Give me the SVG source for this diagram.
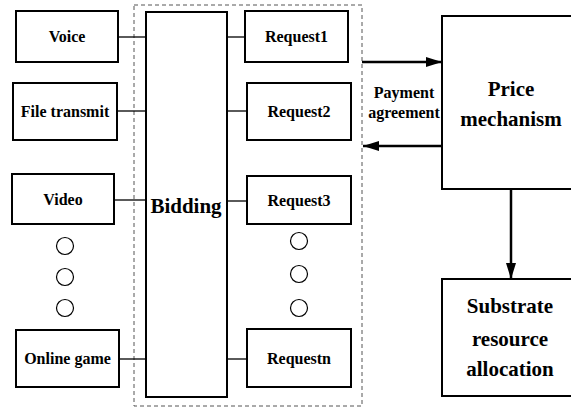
<svg xmlns="http://www.w3.org/2000/svg" width="571" height="407" viewBox="0 0 571 407">
<style>
.box{fill:#fff;stroke:#000;stroke-width:2}
.t{font-family:"Liberation Serif","Times New Roman",serif;font-weight:bold;text-anchor:middle;fill:#000}
.s16{font-size:16px}
.s21{font-size:21px}
.c{fill:none;stroke:#000;stroke-width:1.3}
.a{fill:none;stroke:#000;stroke-width:2.5}
.o{fill:#fff;stroke:#000;stroke-width:1.2}
</style>
<defs>
<marker id="ah" viewBox="0 0 16 10" refX="16" refY="5" markerWidth="16" markerHeight="10" markerUnits="userSpaceOnUse" orient="auto">
<path d="M0,0 L16,5 L0,10 z" fill="#000"/>
</marker>
</defs>
<rect x="134" y="5" width="228" height="401" fill="none" stroke="#555" stroke-width="1" stroke-dasharray="4,3"/>
<g id="connectors">
<line class="c" x1="118" y1="37" x2="146" y2="37"/>
<line class="c" x1="117" y1="111" x2="146" y2="111"/>
<line class="c" x1="114" y1="200" x2="146" y2="200"/>
<line class="c" x1="119" y1="359" x2="146" y2="359"/>
<line class="c" x1="227" y1="37" x2="245" y2="37"/>
<line class="c" x1="227" y1="111" x2="247" y2="111"/>
<line class="c" x1="227" y1="201" x2="247" y2="201"/>
<line class="c" x1="227" y1="359" x2="247" y2="359"/>
<line class="a" x1="362" y1="62" x2="442" y2="62" marker-end="url(#ah)"/>
<line class="a" x1="442" y1="146" x2="363" y2="146" marker-end="url(#ah)"/>
<line class="a" x1="511" y1="189" x2="511" y2="279" marker-end="url(#ah)"/>
</g>
<g id="voice"><rect class="box" x="16" y="11" width="102" height="51"/><text class="t s16" x="67" y="42">Voice</text></g>
<g id="file-transmit"><rect class="box" x="13" y="83" width="104" height="57"/><text class="t s16" x="65" y="117">File transmit</text></g>
<g id="video"><rect class="box" x="12" y="174" width="102" height="50"/><text class="t s16" x="63" y="205">Video</text></g>
<g id="left-dots"><circle class="o" cx="65" cy="246" r="8.5"/><circle class="o" cx="65" cy="277" r="8.5"/><circle class="o" cx="65" cy="308" r="8.5"/></g>
<g id="online-game"><rect class="box" x="16" y="330" width="103" height="57"/><text class="t s16" x="67.5" y="364">Online game</text></g>
<g id="bidding"><rect class="box" x="146" y="12" width="81" height="385"/><text class="t s21" x="186" y="213">Bidding</text></g>
<g id="request1"><rect class="box" x="245" y="11" width="103" height="51"/><text class="t s16" x="296.5" y="42">Request1</text></g>
<g id="request2"><rect class="box" x="247" y="83" width="104" height="57"/><text class="t s16" x="299" y="117">Request2</text></g>
<g id="request3"><rect class="box" x="247" y="176" width="104" height="48"/><text class="t s16" x="299" y="206">Request3</text></g>
<g id="right-dots"><circle class="o" cx="299" cy="241" r="8.5"/><circle class="o" cx="299" cy="274" r="8.5"/><circle class="o" cx="299" cy="308" r="8.5"/></g>
<g id="requestn"><rect class="box" x="247" y="329" width="104" height="58"/><text class="t s16" x="299" y="364">Requestn</text></g>
<g id="payment-label"><text class="t s16" x="404" y="98">Payment</text><text class="t s16" x="404" y="118">agreement</text></g>
<g id="price-mechanism"><rect class="box" x="442" y="16" width="140" height="173"/><text class="t s21" x="511" y="96">Price</text><text class="t s21" x="511" y="126">mechanism</text></g>
<g id="substrate"><rect class="box" x="442" y="279" width="140" height="117"/><text class="t s21" x="510" y="313">Substrate</text><text class="t s21" x="510" y="346">resource</text><text class="t s21" x="510" y="376">allocation</text></g>
</svg>
